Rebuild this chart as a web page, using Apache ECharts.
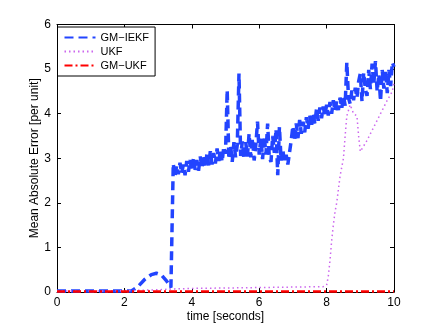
<!DOCTYPE html>
<html>
<head>
<meta charset="utf-8">
<script src="https://cdn.jsdelivr.net/npm/echarts@6/dist/echarts.min.js"></script>
<style>
  html, body { margin: 0; padding: 0; background: #fff; }
  #chart { width: 436px; height: 328px; }
</style>
</head>
<body>
<div id="chart"></div>
<script>
// legend names
var seriesNames = ['GM\u2212IEKF', 'UKF', 'GM\u2212UKF'];

// axis ticks
var xTicks = [0, 2, 4, 6, 8, 10];
var yTicks = [0, 1, 2, 3, 4, 5, 6];

// GM-IEKF: quiet start, small bump, then the jump
var iekfStart = [
  [0, 0.02], [0.5, 0.02], [1, 0.02], [1.5, 0.02], [2, 0.02], [2.2, 0.02],
  [2.4, 0.12], [2.6, 0.28], [2.8, 0.39], [2.95, 0.42], [3.1, 0.38],
  [3.25, 0.25], [3.38, 0.1], [3.43, 0.12]
];

// GM-IEKF: noisy part, read every 0.05 s
var iekfNoisy = [
  [3.45, 2.88], [3.50, 2.58], [3.55, 2.84], [3.60, 2.64], [3.65, 2.90],
  [3.70, 2.66], [3.75, 2.86], [3.80, 2.62], [3.85, 2.94], [3.90, 2.70],
  [3.95, 2.96], [4.00, 2.72], [4.05, 3.00], [4.10, 2.74], [4.15, 2.96],
  [4.20, 2.72], [4.25, 3.04], [4.30, 2.78], [4.35, 3.08], [4.40, 2.80],
  [4.45, 3.10], [4.50, 2.84], [4.55, 3.16], [4.60, 2.86], [4.65, 3.12],
  [4.70, 2.88], [4.75, 3.22], [4.80, 2.94], [4.85, 3.18], [4.90, 2.92],
  [4.95, 3.26], [5.00, 3.10], [5.05, 4.53], [5.10, 2.98], [5.15, 3.30],
  [5.20, 2.92], [5.25, 3.36], [5.30, 3.02], [5.35, 3.30], [5.40, 4.90],
  [5.45, 3.05], [5.50, 3.38], [5.55, 2.98], [5.60, 3.36], [5.65, 3.04],
  [5.70, 3.55], [5.75, 3.02], [5.80, 3.45], [5.85, 2.95], [5.90, 3.30],
  [5.95, 3.82], [6.00, 3.08], [6.05, 3.45], [6.10, 2.98], [6.15, 3.50],
  [6.20, 3.08], [6.25, 3.78], [6.30, 3.02], [6.35, 2.92], [6.40, 3.50],
  [6.45, 3.12], [6.50, 3.65], [6.55, 2.62], [6.60, 3.70], [6.65, 2.95],
  [6.70, 3.20], [6.75, 2.90], [6.80, 3.08], [6.85, 2.86], [6.90, 2.84],
  [6.95, 3.40], [7.00, 3.72], [7.05, 3.40], [7.10, 3.78], [7.15, 3.45],
  [7.20, 3.86], [7.25, 3.55], [7.30, 3.82], [7.35, 3.58], [7.40, 3.92],
  [7.45, 3.66], [7.50, 3.96], [7.55, 3.70], [7.60, 4.02], [7.65, 3.78],
  [7.70, 4.10], [7.75, 3.84], [7.80, 4.14], [7.85, 3.90], [7.90, 4.16],
  [7.95, 3.94], [8.00, 4.20], [8.05, 3.96], [8.10, 4.26], [8.15, 4.00],
  [8.20, 4.30], [8.25, 4.06], [8.30, 4.28], [8.35, 4.08], [8.40, 4.36],
  [8.45, 4.12], [8.50, 4.40], [8.55, 4.18], [8.60, 5.15], [8.65, 4.35],
  [8.70, 4.22], [8.75, 4.52], [8.80, 4.30], [8.85, 4.58], [8.90, 4.36],
  [8.95, 4.72], [9.00, 4.90], [9.05, 4.28], [9.10, 4.92], [9.15, 4.55],
  [9.20, 4.40], [9.25, 4.98], [9.30, 4.55], [9.35, 5.12], [9.40, 4.66],
  [9.45, 5.18], [9.50, 4.50], [9.55, 4.88], [9.60, 4.28], [9.65, 4.98],
  [9.70, 4.56], [9.75, 4.98], [9.80, 4.46], [9.85, 4.98], [9.90, 4.62],
  [9.95, 5.15], [10.00, 5.05]
];

// UKF
var ukfPts = [
  [0, 0.02], [1, 0.02], [2, 0.03], [2.5, 0.04], [3, 0.05], [3.5, 0.07],
  [4, 0.08], [5, 0.09], [6, 0.1], [7, 0.11], [7.9, 0.12], [8.0, 0.15],
  [8.05, 0.35], [8.1, 0.7], [8.15, 1.15], [8.2, 1.5], [8.25, 1.8],
  [8.3, 2.0], [8.35, 2.3], [8.4, 2.6], [8.45, 2.8], [8.5, 3.0],
  [8.55, 3.5], [8.6, 3.95], [8.7, 4.2], [8.8, 4.0], [8.9, 3.95],
  [8.95, 3.5], [9.0, 3.15], [9.05, 3.12], [9.2, 3.4], [9.4, 3.7],
  [9.6, 4.0], [9.8, 4.3], [9.95, 4.5], [10, 4.7]
];

// GM-UKF
var gmukfPts = [
  [0, 0.01], [2, 0.01], [4, 0.01], [6, 0.01], [8, 0.01], [10, 0.01]
];

var chart = echarts.init(document.getElementById('chart'));

var font = 'Liberation Sans, Arial, Helvetica, sans-serif';
var tickStyle = { show: true, inside: true, length: 4, lineStyle: { color: '#000' } };
var lineBox = { show: true, onZero: false, lineStyle: { color: '#000', width: 1 } };

var option = {
  animation: false,
  backgroundColor: '#fff',
  textStyle: { fontFamily: font },
  grid: { left: 57, right: 42, top: 24.5, bottom: 36, containLabel: false, outerBoundsMode: 'none' },
  legend: {
    data: seriesNames,
    orient: 'vertical',
    left: 57.5,
    top: 27,
    padding: [5, 6, 5, 6],
    itemGap: 3,
    itemWidth: 31,
    itemHeight: 11,
    borderColor: '#000',
    borderWidth: 1,
    borderRadius: 0,
    backgroundColor: '#fff',
    itemStyle: { opacity: 0 },
    textStyle: { fontSize: 11, color: '#000', fontFamily: font }
  },
  xAxis: [{
    type: 'value',
    min: xTicks[0],
    max: xTicks[xTicks.length - 1],
    interval: 2,
    name: 'time [seconds]',
    nameLocation: 'middle',
    nameGap: 19,
    nameMoveOverlap: false,
    nameTextStyle: { fontSize: 12, color: '#000', fontFamily: font },
    axisLine: lineBox,
    axisTick: tickStyle,
    axisLabel: { fontSize: 12, color: '#000', margin: 5, fontFamily: font },
    splitLine: { show: false }
  }, {
    type: 'value',
    position: 'top',
    min: xTicks[0],
    max: xTicks[xTicks.length - 1],
    interval: 2,
    axisLine: lineBox,
    axisTick: tickStyle,
    axisLabel: { show: false },
    splitLine: { show: false }
  }],
  yAxis: [{
    type: 'value',
    min: yTicks[0],
    max: yTicks[yTicks.length - 1],
    interval: 1,
    name: 'Mean Absolute Error [per unit]',
    nameLocation: 'middle',
    nameGap: 16,
    nameMoveOverlap: false,
    nameTextStyle: { fontSize: 12, color: '#000', fontFamily: font },
    axisLine: lineBox,
    axisTick: tickStyle,
    axisLabel: { fontSize: 12, color: '#000', margin: 6, fontFamily: font },
    splitLine: { show: false }
  }, {
    type: 'value',
    position: 'right',
    min: yTicks[0],
    max: yTicks[yTicks.length - 1],
    interval: 1,
    axisLine: lineBox,
    axisTick: tickStyle,
    axisLabel: { show: false },
    splitLine: { show: false }
  }],
  series: [{
    name: seriesNames[0],
    type: 'line',
    data: iekfStart.concat(iekfNoisy),
    showSymbol: false,
    symbol: 'none',
    color: '#2244ff',
    lineStyle: { color: '#2244ff', width: 3.5, type: [9, 5] }
  }, {
    name: seriesNames[1],
    type: 'line',
    data: ukfPts,
    showSymbol: false,
    symbol: 'none',
    color: '#cc66ee',
    lineStyle: { color: '#cc66ee', width: 1.5, type: [1.5, 3] }
  }, {
    name: seriesNames[2],
    type: 'line',
    data: gmukfPts,
    showSymbol: false,
    symbol: 'none',
    color: '#ff0000',
    lineStyle: { color: '#ff0000', width: 2.5, type: [8, 3, 2, 3] }
  }]
};

chart.setOption(option);
</script>
</body>
</html>
